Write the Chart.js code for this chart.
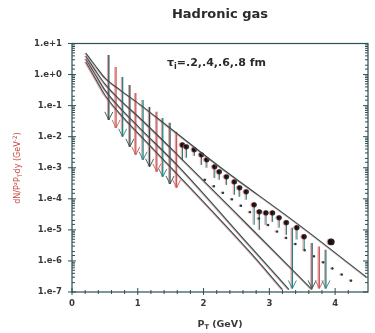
<!DOCTYPE html>
<html>
<head>
<meta charset="utf-8">
<script src="https://cdn.jsdelivr.net/npm/chart.js@4.4.0/dist/chart.umd.min.js"></script>
<style>
  html, body { margin:0; padding:0; background:#fff; }
</style>
</head>
<body>
<canvas id="chart" width="375" height="333"></canvas>
<script>
// ticks
const yTickValues = [1e1, 1e0, 1e-1, 1e-2, 1e-3, 1e-4, 1e-5, 1e-6, 1e-7];
const yTickLabels = ['1.e+1','1.e+0','1.e-1','1.e-2','1.e-3','1.e-4','1.e-5','1.e-6','1.e-7'];
const xTickValues = [0, 1, 2, 3, 4];
const xTickLabels = ['0','1','2','3','4'];

// four thermal curves (tau = .2, .4, .6, .8 fm)
const curve1Pt  = [0.21, 0.35, 0.5, 0.73, 1.03, 1.49, 2.24, 3.45, 4.47];
const curve1Val = [4.9, 2.0, 0.78, 0.32, 0.11, 0.019, 1.1e-3, 1.45e-5, 3.1e-7];
const curve2Pt  = [0.21, 0.35, 0.5, 0.73, 1.03, 1.64, 2.70, 3.65];
const curve2Val = [3.96, 1.41, 0.50, 0.152, 0.040, 2.2e-3, 1.26e-5, 1.2e-7];
const curve3Pt  = [0.21, 0.35, 0.5, 0.73, 1.03, 1.64, 2.70, 3.30];
const curve3Val = [3.18, 1.04, 0.32, 0.084, 0.019, 9.9e-4, 3.1e-6, 1.2e-7];
const curve4Pt  = [0.21, 0.35, 0.5, 0.73, 1.03, 1.64, 2.70, 3.20];
const curve4Val = [2.54, 0.78, 0.22, 0.054, 0.0114, 5.1e-4, 1.98e-6, 1.19e-7];

// dotted curve
const dotPt  = [2.02, 3.23, 4.29];
const dotVal = [4.1e-4, 6.0e-6, 2.0e-7];

// measured points with lower error ends
const dataPt  = [1.68, 1.74, 1.86, 1.97, 2.05, 2.17, 2.24, 2.35, 2.47, 2.55, 2.65, 2.77, 2.85, 2.95, 3.05, 3.15, 3.26, 3.42, 3.53, 3.94];
const dataVal = [5.4e-3, 4.7e-3, 3.8e-3, 2.6e-3, 1.8e-3, 1.07e-3, 7.4e-4, 5.1e-4, 3.5e-4, 2.26e-4, 1.68e-4, 6.4e-5, 3.8e-5, 3.5e-5, 3.5e-5, 2.45e-5, 1.7e-5, 1.17e-5, 6.0e-6, 4.1e-6];
const dataLow = [1.8e-3, 2.1e-3, 2.4e-3, 1.23e-3, 1.0e-3, 4.7e-4, 4.1e-4, 2.8e-4, 1.35e-4, 1.16e-4, 9.3e-5, 1.46e-5, 1.0e-5, 1.46e-5, 1.8e-5, 1.17e-5, 6.9e-6, 4.9e-6, 2.3e-6, 4.1e-6];

// low pT bars ending in arrows
const limPt     = [0.56, 0.67, 0.77, 0.88, 0.97, 1.08, 1.18, 1.29, 1.38, 1.49, 1.59];
const limTop    = [4.27, 1.75, 0.84, 0.46, 0.256, 0.152, 0.091, 0.063, 0.040, 0.028, 0.0143];
const limBottom = [0.0347, 0.0192, 9.9e-3, 4.7e-3, 2.6e-3, 1.8e-3, 1.07e-3, 7.4e-4, 5.1e-4, 3.0e-4, 2.26e-4];

// high pT upper limits
const hiPt     = [3.35, 3.65, 3.76, 3.86];
const hiTop    = [1.17e-5, 3.8e-6, 2.9e-6, 2.3e-6];
const hiBottom = [1.3e-7, 1.3e-7, 1.3e-7, 1.3e-7];

const pts = (xs, ys) => xs.map((x, i) => ({ x, y: ys[i] }));
const CURVE = '#274f52';
const INK = '#2a2a2a';

function isDecade(v){
  return yTickValues.some(t => Math.abs(Math.log10(t) - Math.log10(v)) < 1e-6);
}

function drawParts(ctx, parts, x, y, anchor){
  let w = 0;
  parts.forEach(p => { ctx.font = p.font; w += ctx.measureText(p.t).width; });
  let cx = anchor === 'center' ? x - w / 2 : x;
  parts.forEach(p => {
    ctx.font = p.font;
    ctx.fillText(p.t, cx, y + (p.dy || 0));
    cx += ctx.measureText(p.t).width;
  });
}

function arrowBar(ctx, sc, x, yTop, yBot, color){
  const px = sc.x.getPixelForValue(x);
  const pt = sc.y.getPixelForValue(yTop);
  const pb = sc.y.getPixelForValue(yBot);
  ctx.strokeStyle = color;
  ctx.lineWidth = 1.3;
  ctx.shadowColor = 'rgba(215,90,90,0.55)';
  ctx.beginPath();
  ctx.moveTo(px, pt); ctx.lineTo(px, pb);
  ctx.stroke();
  // open V head
  ctx.shadowColor = 'rgba(0,0,0,0)';
  ctx.lineWidth = 0.9;
  ctx.beginPath();
  ctx.moveTo(px - 4, pb - 8); ctx.lineTo(px, pb); ctx.lineTo(px + 4, pb - 8);
  ctx.stroke();
}

const framePlugin = {
  id: 'frame',
  beforeDatasetsDraw(chart){
    const { ctx, chartArea: a, scales } = chart;
    ctx.save();
    ctx.strokeStyle = '#2d4f52';
    ctx.lineWidth = 1.2;
    ctx.strokeRect(a.left, a.top, a.right - a.left, a.bottom - a.top);
    ctx.lineWidth = 1;
    ctx.beginPath();
    scales.y.ticks.forEach(t => {
      const py = scales.y.getPixelForValue(t.value);
      if (isDecade(t.value)) {
        ctx.moveTo(a.left - 4, py); ctx.lineTo(a.left + 4, py);
        ctx.moveTo(a.right - 5, py); ctx.lineTo(a.right, py);
      } else {
        ctx.moveTo(a.left, py); ctx.lineTo(a.left + 3, py);
        ctx.moveTo(a.right - 3, py); ctx.lineTo(a.right, py);
      }
    });
    scales.x.ticks.forEach(t => {
      const px = scales.x.getPixelForValue(t.value);
      if (px <= a.left + 0.5 && t.value !== 0) return;
      if (px >= a.right - 0.5) return;
      const major = xTickValues.some(v => Math.abs(v - t.value) < 1e-6);
      ctx.moveTo(px, a.bottom + (major ? 3 : 2));
      ctx.lineTo(px, a.bottom - (major ? 4 : 2));
    });
    ctx.stroke();

    // texts
    ctx.fillStyle = INK;
    ctx.textBaseline = 'alphabetic';
    ctx.textAlign = 'left';
    const cx = (a.left + a.right) / 2;
    drawParts(ctx, [{ t: 'Hadronic gas', font: 'bold 13px "DejaVu Sans"' }], cx, 17.5, 'center');
    drawParts(ctx, [
      { t: '\u03C4', font: 'bold 11px "DejaVu Sans"' },
      { t: 'i', font: 'bold 8px "DejaVu Sans"', dy: 2.5 },
      { t: '=.2,.4,.6,.8 fm', font: 'bold 11px "DejaVu Sans"' }
    ], 167, 66, 'left');
    ctx.fillStyle = '#3a3a3a';
    drawParts(ctx, [
      { t: 'P', font: 'bold 9.5px "DejaVu Sans"' },
      { t: 'T', font: 'bold 6.5px "DejaVu Sans"', dy: 2 },
      { t: ' (GeV)', font: 'bold 9.5px "DejaVu Sans"' }
    ], cx, 326.5, 'center');
    ctx.translate(17, 168);
    ctx.rotate(-Math.PI / 2);
    ctx.fillStyle = '#c8483f';
    drawParts(ctx, [
      { t: 'dN/P\u00B2P', font: '8px "DejaVu Sans"' },
      { t: 'T', font: '6px "DejaVu Sans"', dy: 2 },
      { t: 'dy (GeV', font: '8px "DejaVu Sans"' },
      { t: '-2', font: '6px "DejaVu Sans"', dy: -3 },
      { t: ')', font: '8px "DejaVu Sans"' }
    ], 0, 3, 'center');
    ctx.restore();
  }
};

const barsPlugin = {
  id: 'bars',
  beforeDatasetsDraw(chart){
    const { ctx, chartArea: a, scales } = chart;
    ctx.save();
    ctx.shadowOffsetX = -1.2;
    ctx.shadowBlur = 0;
    ctx.save();
    ctx.beginPath();
    ctx.rect(a.left, a.top, a.right - a.left, a.bottom - a.top);
    ctx.clip();
    const cycle = ['#2a5053', '#c85a5a', '#1f8585'];
    limPt.forEach((x, i) => arrowBar(ctx, scales, x, limTop[i], limBottom[i], cycle[i % 3]));
    hiPt.forEach((x, i) => arrowBar(ctx, scales, x, hiTop[i], hiBottom[i], cycle[(i + 2) % 3]));
    ctx.shadowColor = 'rgba(215,90,90,0.55)';
    ctx.lineWidth = 1;
    ctx.strokeStyle = '#1f8080';
    ctx.beginPath();
    dataPt.forEach((x, i) => {
      const px = scales.x.getPixelForValue(x);
      ctx.moveTo(px, scales.y.getPixelForValue(dataVal[i]));
      ctx.lineTo(px, scales.y.getPixelForValue(dataLow[i]));
    });
    ctx.stroke();
    ctx.restore();
    ctx.shadowColor = 'rgba(215,90,90,0.55)';
  },
  afterDatasetsDraw(chart){
    chart.ctx.restore();
  }
};

const curveStyle = {
  showLine: true, pointRadius: 0, borderColor: CURVE, borderWidth: 1.1,
  cubicInterpolationMode: 'monotone', fill: false
};

new Chart(document.getElementById('chart'), {
  type: 'scatter',
  data: {
    datasets: [
      { label: 'curve 1', data: pts(curve1Pt, curve1Val), ...curveStyle },
      { label: 'curve 2', data: pts(curve2Pt, curve2Val), ...curveStyle },
      { label: 'curve 3', data: pts(curve3Pt, curve3Val), ...curveStyle },
      { label: 'curve 4', data: pts(curve4Pt, curve4Val), ...curveStyle },
      { label: 'dotted', data: pts(dotPt, dotVal), showLine: true, pointRadius: 0,
        borderColor: '#1f3f40', borderWidth: 2.4, borderDash: [0.1, 11], borderCapStyle: 'round' },
      { label: 'data', data: pts(dataPt, dataVal), showLine: false,
        pointRadius: c => c.dataIndex === dataPt.length - 1 ? 3.2 : 2.4,
        pointBackgroundColor: '#111', pointBorderColor: '#111', pointBorderWidth: 0.5 }
    ]
  },
  options: {
    responsive: false,
    animation: false,
    events: [],
    layout: { padding: { top: 43.5, right: 7, left: 0, bottom: 0 } },
    plugins: { legend: { display: false }, tooltip: { enabled: false }, title: { display: false } },
    scales: {
      x: {
        type: 'linear', min: 0, max: 4.5,
        afterFit: s => { s.height = 41; },
        grid: { display: false, drawTicks: false }, border: { display: false },
        ticks: {
          stepSize: 0.2, autoSkip: false, maxRotation: 0, padding: 7, color: '#3a3a3a',
          font: { family: 'DejaVu Sans', weight: 'bold', size: 8.5 },
          callback: v => {
            const i = xTickValues.findIndex(t => Math.abs(t - v) < 1e-6);
            return i >= 0 ? xTickLabels[i] : '';
          }
        }
      },
      y: {
        type: 'logarithmic', min: 1e-7, max: 10,
        afterFit: s => { s.width = 72; },
        grid: { display: false, drawTicks: false }, border: { display: false },
        ticks: {
          autoSkip: false, padding: 10, color: '#3a3a3a',
          font: { family: 'DejaVu Sans', weight: 'bold', size: 8.5 },
          callback: v => {
            const i = yTickValues.findIndex(t => Math.abs(Math.log10(t) - Math.log10(v)) < 1e-6);
            return i >= 0 ? yTickLabels[i] : '';
          }
        }
      }
    }
  },
  plugins: [framePlugin, barsPlugin]
});
</script>
</body>
</html>
